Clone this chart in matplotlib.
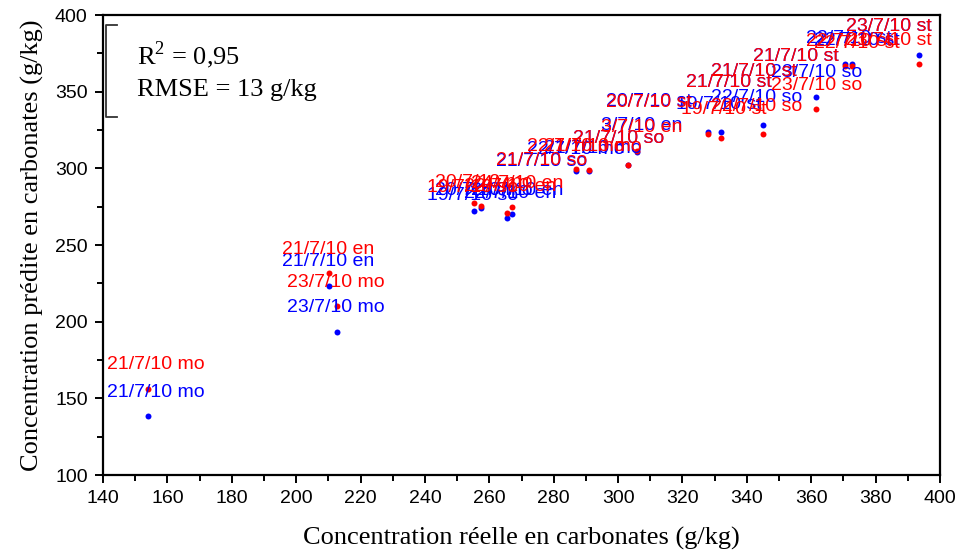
import numpy as np
import matplotlib
matplotlib.use("Agg")
import matplotlib.pyplot as plt
from matplotlib.ticker import MultipleLocator

plt.rcParams["mathtext.fontset"] = "custom"
plt.rcParams["mathtext.rm"] = "Liberation Serif"

# measured (reference) carbonate concentration, g/kg
x_real = [153.9, 210.1, 212.6, 255.1, 257.4, 265.4, 267.1, 287.0, 291.0,
          303.1, 305.8, 328.0, 332.0, 345.0, 361.6, 370.4, 372.7, 393.4]
# predicted values, two models
y_red = [156.0, 231.7, 210.2, 277.2, 275.6, 271.0, 274.6, 299.5, 298.6,
         302.3, 311.3, 322.2, 320.0, 322.6, 338.5, 366.9, 366.9, 367.8]
y_blue = [138.4, 223.2, 193.2, 272.1, 274.0, 267.4, 270.0, 298.0, 298.0,
          302.3, 310.8, 323.5, 323.7, 328.4, 346.5, 367.8, 367.8, 373.9]
sample_names = ["21/7/10 mo", "21/7/10 en", "23/7/10 mo", "20/7/10 mo",
                "19/7/10 so", "22/7/10 en", "24/7/10 en", "22/7/10 mo",
                "21/7/10 mo", "21/7/10 so", "3/7/10 en", "20/7/10 st",
                "19/7/10 st", "22/7/10 so", "23/7/10 so", "22/7/10 st",
                "22/7/10 st", "23/7/10 st"]

# label offsets from each point (pixels, y downwards)
off_red = [(8, -25), (-1, -24), (-1, -24), (10, -21), (-8, -18), (3, -26),
           (5, -24), (0, -23), (4, -24), (-9, -26), (5, -24), (-59, -32),
           (3, -28), (-6, -27), (0, -24), (4, -24), (5, -22), (-30, -24)]
off_blue = [(8, -24), (-1, -25), (-1, -25), (10, -21), (-8, -13), (3, -25),
            (5, -24), (0, -22), (4, -23), (-9, -26), (5, -26), (-59, -31),
            (-2, -27), (-6, -27), (0, -25), (4, -26), (5, -24), (-30, -29)]
# extra overlapping labels: (sample, text, red offset, blue offset)
extra = [(7, "21/7/10 so", (-35, -9), (-35, -10)),
         (11, "21/7/10 st", (21, -52), (21, -50)),
         (12, "21/7/10 st", (33, -66), (33, -60)),
         (13, "21/7/10 st", (33, -77), (33, -68)),
         (17, "23/7/10 st", (-30, -38), None)]

RED = "#ff0000"
BLUE = "#0000ff"
px2pt = 72 / 100

fig = plt.figure(figsize=(9.57, 5.5), dpi=100)
ax = fig.add_axes([103 / 957, 1 - 475 / 550, 837 / 957, 460 / 550])

ax.plot(x_real, y_blue, "o", color=BLUE, ms=4.3, mew=0, zorder=2)
ax.plot(x_real, y_red, "o", color=RED, ms=4.3, mew=0, zorder=2)

lab_font = dict(family="Liberation Sans", fontsize=14, ha="center", va="center",
                textcoords="offset points", annotation_clip=False)


def put(x, y, txt, off, col, z):
    ax.annotate(txt, (x, y), xytext=(off[0] * px2pt, -off[1] * px2pt),
                color=col, zorder=z, **lab_font)


for i, name in enumerate(sample_names):
    put(x_real[i], y_blue[i], name, off_blue[i], BLUE, 3)
for i, name in enumerate(sample_names):
    put(x_real[i], y_red[i], name, off_red[i], RED, 4)
for i, txt, o_r, o_b in extra:
    if o_b is not None:
        put(x_real[i], y_blue[i], txt, o_b, BLUE, 3)
    put(x_real[i], y_red[i], txt, o_r, RED, 4)

ax.set_xlim(140, 400)
ax.set_ylim(100, 400)
ax.xaxis.set_major_locator(MultipleLocator(20))
ax.xaxis.set_minor_locator(MultipleLocator(10))
ax.yaxis.set_major_locator(MultipleLocator(50))
ax.yaxis.set_minor_locator(MultipleLocator(25))
ax.tick_params(which="both", direction="out", top=False, right=False,
               width=1.4, labelsize=14, pad=5)
ax.tick_params(which="major", length=6)
ax.tick_params(which="minor", length=4.5)
for t in ax.get_xticklabels() + ax.get_yticklabels():
    t.set_family("Liberation Sans")
for s in ax.spines.values():
    s.set_linewidth(1.6)

# odd bracket left on the y axis near the top
ax.plot([0.017, 0.003, 0.003, 0.017], [393.5, 393.5, 333.5, 333.5],
        transform=ax.get_yaxis_transform(), color="#333333", lw=1.3,
        clip_on=False, zorder=5)

stat_font = dict(transform=ax.transAxes, family="Liberation Serif",
                 fontsize=19, va="center", ha="left")
ax.text(0.041, 0.913, "R$^{2}$ = 0,95", **stat_font)
ax.text(0.041, 0.837, "RMSE = 13 g/kg", **stat_font)

ax.set_xlabel("Concentration réelle en carbonates (g/kg)",
              family="Liberation Serif", fontsize=19, labelpad=14)
ax.set_ylabel("Concentration prédite en carbonates (g/kg)",
              family="Liberation Serif", fontsize=19, labelpad=8)

fig.savefig("out.png", dpi=100)
